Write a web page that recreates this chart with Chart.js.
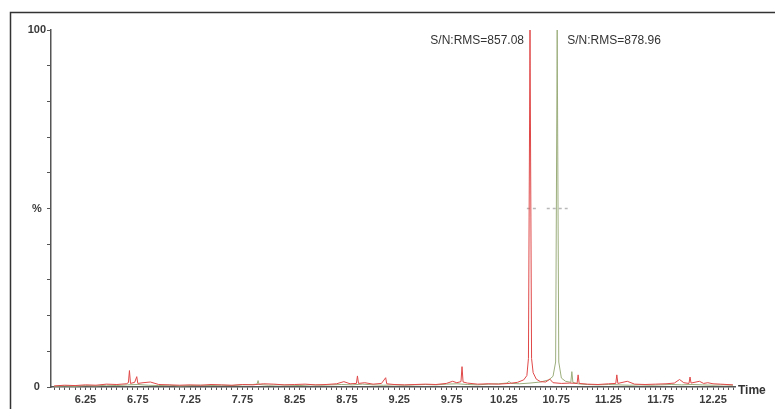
<!DOCTYPE html>
<html>
<head>
<meta charset="utf-8">
<script src="https://cdn.jsdelivr.net/npm/chart.js@4"></script>
<style>
  html, body { margin: 0; padding: 0; background: #fff; }
  #wrap { width: 775px; height: 409px; }
</style>
</head>
<body>
<div id="wrap"><canvas id="chart" width="775" height="409"></canvas></div>
<script>
// chromatogram traces (time in min, intensity in %)
const redTime = [5.95, 6.05, 6.15, 6.25, 6.35, 6.45, 6.55, 6.64, 6.66, 6.67, 6.68, 6.72, 6.74, 6.75, 6.80, 6.87, 6.95,
  7.05, 7.15, 7.25, 7.35, 7.45, 7.55, 7.65, 7.75, 7.85, 7.95, 8.05, 8.15, 8.25, 8.35, 8.45, 8.55, 8.65, 8.72, 8.78,
  8.84, 8.85, 8.86, 8.92, 9.00, 9.08, 9.12, 9.13, 9.20, 9.30, 9.40, 9.50, 9.60, 9.70, 9.76, 9.80, 9.84, 9.85, 9.86,
  9.90, 10.00, 10.10, 10.20, 10.30, 10.38, 10.44, 10.47, 10.485, 10.50, 10.515, 10.53, 10.56, 10.60, 10.65, 10.69,
  10.72, 10.80, 10.88, 10.95, 10.96, 10.97, 11.05, 11.15, 11.25, 11.32, 11.33, 11.34, 11.43, 11.50, 11.60, 11.70,
  11.80, 11.88, 11.93, 11.97, 12.02, 12.03, 12.04, 12.12, 12.16, 12.20, 12.25, 12.32, 12.44];
const redValues = [0.3, 0.5, 0.4, 0.6, 0.5, 0.8, 0.7, 0.9, 1.2, 4.6, 1.0, 1.3, 2.9, 1.0, 1.2, 1.4, 0.7,
  0.6, 0.5, 0.6, 0.5, 0.7, 0.6, 0.5, 0.7, 0.6, 0.9, 0.8, 0.6, 0.7, 0.8, 0.6, 0.7, 0.9, 1.5, 0.9,
  1.0, 3.1, 1.0, 1.2, 0.8, 1.0, 2.6, 0.9, 0.7, 0.6, 0.7, 0.8, 0.7, 1.0, 1.6, 1.2, 1.5, 5.7, 1.4,
  1.1, 0.8, 0.9, 0.8, 1.0, 1.3, 2.0, 3.2, 8.0, 100, 8.0, 4.0, 2.2, 1.5, 1.4, 2.2,
  1.2, 1.0, 1.1, 1.0, 3.4, 1.0, 0.8, 0.7, 0.9, 1.0, 3.4, 1.0, 1.6, 0.8, 0.7, 0.8,
  0.9, 1.1, 2.1, 1.2, 1.0, 2.8, 1.1, 1.6, 1.0, 1.2, 0.9, 0.8, 0.6];

const greenTime = [5.95, 6.05, 6.15, 6.25, 6.35, 6.45, 6.55, 6.65, 6.75, 6.85, 6.95, 7.05, 7.15, 7.25, 7.35, 7.45,
  7.55, 7.65, 7.75, 7.85, 7.89, 7.90, 7.91, 8.00, 8.10, 8.20, 8.30, 8.40, 8.50, 8.60, 8.70, 8.80, 8.90, 9.00, 9.10,
  9.20, 9.30, 9.40, 9.50, 9.60, 9.70, 9.80, 9.90, 10.00, 10.10, 10.20, 10.28, 10.30, 10.32, 10.40, 10.50, 10.60,
  10.68, 10.72, 10.745, 10.76, 10.775, 10.80, 10.84, 10.89, 10.90, 10.91, 10.96, 11.05, 11.15, 11.25, 11.35, 11.45,
  11.55, 11.65, 11.75, 11.85, 11.95, 12.05, 12.15, 12.25, 12.35, 12.44];
const greenValues = [0.2, 0.3, 0.2, 0.4, 0.3, 0.5, 0.4, 0.6, 0.7, 0.5, 0.4, 0.5, 0.3, 0.4, 0.5, 0.4,
  0.5, 0.4, 0.6, 0.7, 0.8, 1.8, 0.7, 0.5, 0.6, 0.5, 0.4, 0.6, 0.5, 0.6, 0.7, 0.6, 0.8, 0.6, 0.5,
  0.6, 0.5, 0.6, 0.7, 0.6, 0.8, 0.9, 0.7, 0.6, 0.8, 0.9, 1.1, 1.6, 1.0, 0.9, 1.1, 1.4,
  2.0, 3.0, 7.0, 100, 7.0, 2.5, 1.6, 1.3, 4.3, 1.3, 0.9, 0.7, 0.6, 0.7, 0.6, 0.5,
  0.6, 0.5, 0.6, 0.7, 0.6, 0.7, 0.6, 0.5, 0.6, 0.5];

// peak annotations and half-height width markers
const peakTimes = [10.50, 10.76];
const peakLabels = ["S/N:RMS=857.08", "S/N:RMS=878.96"];
const halfRedTime = [10.47, 10.57];
const halfGreenTime = [10.66, 10.86];
const halfHeight = [50, 50];

const toPoints = (xs, ys) => xs.map((x, i) => ({ x, y: ys[i] }));
const FONT = "'Liberation Sans', Arial, sans-serif";

const frame = {
  id: "frame",
  afterDraw(chart) {
    const { ctx, chartArea, scales } = chart;
    ctx.save();
    // outer border (left + top)
    ctx.strokeStyle = "#333";
    ctx.lineWidth = 1.5;
    ctx.beginPath();
    ctx.moveTo(10.5, 409);
    ctx.lineTo(10.5, 12.5);
    ctx.lineTo(775, 12.5);
    ctx.stroke();

    ctx.fillStyle = "#333";
    ctx.font = "12px " + FONT;
    ctx.textBaseline = "middle";
    const y = scales.y.getPixelForValue(97);
    ctx.textAlign = "right";
    ctx.fillText(peakLabels[0], scales.x.getPixelForValue(peakTimes[0]) - 6, y);
    ctx.textAlign = "left";
    ctx.fillText(peakLabels[1], scales.x.getPixelForValue(peakTimes[1]) + 10, y);

    ctx.font = "bold 12px " + FONT;
    ctx.fillText("Time", chartArea.right + 3, chartArea.bottom + 4);
    ctx.restore();
  }
};

new Chart(document.getElementById("chart"), {
  type: "line",
  data: {
    datasets: [
      { data: toPoints(redTime, redValues), borderColor: "#e04848", borderWidth: 1 },
      { data: toPoints(greenTime, greenValues), borderColor: "#9cae7c", borderWidth: 1 },
      { data: toPoints(halfRedTime, halfHeight), borderColor: "#b8b8b8", borderWidth: 1.5, borderDash: [3, 3] },
      { data: toPoints(halfGreenTime, halfHeight), borderColor: "#b8b8b8", borderWidth: 1.5, borderDash: [3, 3] }
    ]
  },
  options: {
    responsive: false,
    animation: false,
    elements: { point: { radius: 0 }, line: { tension: 0 } },
    layout: { padding: { left: 0, top: 30, right: 40, bottom: 0 } },
    plugins: { legend: { display: false }, tooltip: { enabled: false } },
    scales: {
      x: {
        type: "linear",
        min: 5.92,
        max: 12.46,
        afterFit: (s) => { s.height = 22; },
        border: { display: true, color: "#555", width: 1.5 },
        grid: { drawOnChartArea: false, drawTicks: true, tickLength: 3, color: "#555" },
        ticks: {
          stepSize: 0.05,
          includeBounds: false,
          autoSkip: false,
          maxRotation: 0,
          padding: 3,
          color: "#3a3a3a",
          font: { family: FONT, size: 11, weight: "bold" },
          callback: (v) => {
            const c = Math.round(v * 100);
            return (c - 625) % 50 === 0 ? (c / 100).toFixed(2) : "";
          }
        }
      },
      y: {
        min: 0,
        max: 100,
        afterFit: (s) => { s.width = 51; },
        border: { display: true, color: "#555", width: 1.5 },
        grid: { drawOnChartArea: false, drawTicks: true, tickLength: 4, color: "#555" },
        ticks: {
          stepSize: 10,
          autoSkip: false,
          crossAlign: "center",
          padding: 1,
          color: "#3a3a3a",
          font: { family: FONT, size: 11, weight: "bold" },
          callback: (v) => (v === 100 ? "100" : v === 50 ? "%" : v === 0 ? "0" : "")
        }
      }
    }
  },
  plugins: [frame]
});
</script>
</body>
</html>
